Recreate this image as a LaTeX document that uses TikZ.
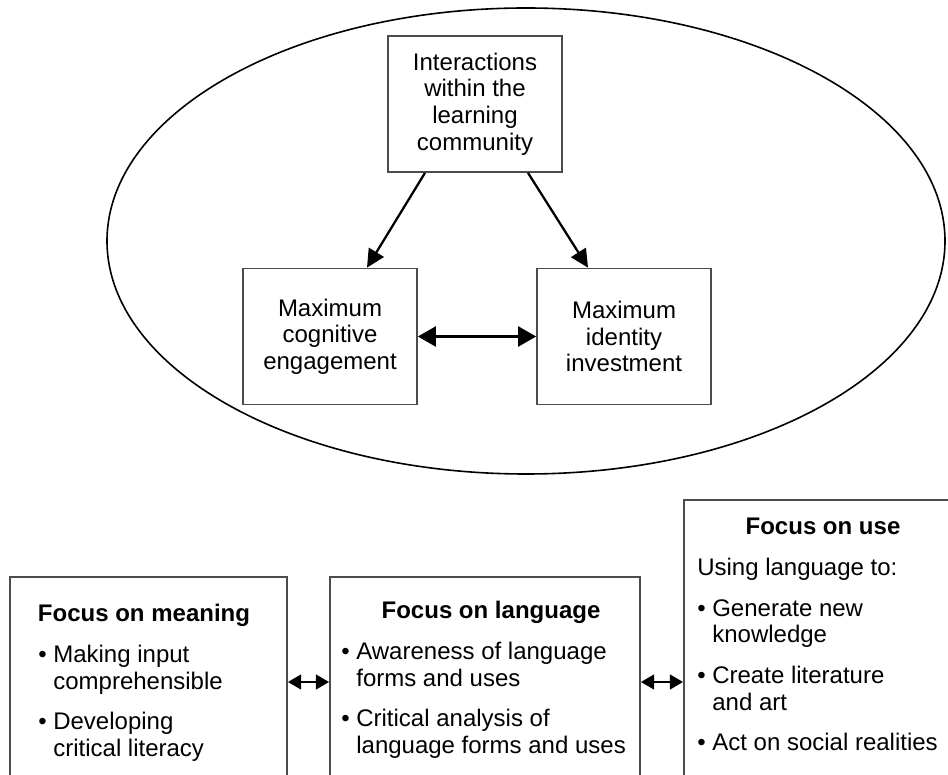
\documentclass[tikz,border=0pt]{standalone}
\usepackage{fontspec}
\setmainfont{Liberation Sans}
\usetikzlibrary{arrows.meta}

\newcommand{\bul}{\textbullet\ }
\newcommand{\bulindent}{\hphantom{\textbullet\ }}

\begin{document}
\begin{tikzpicture}[
    x=0.75pt, y=0.75pt,
    every node/.style={font=\fontsize{18pt}{20pt}\selectfont},
    box/.style={draw=black!70, line width=1.3pt, align=center, inner sep=0pt,
                minimum width=130.5pt, minimum height=102pt},
    panel/.style={draw=black!70, line width=1.3pt, inner sep=0pt,
                  minimum height=157.5pt},
    head/.style={anchor=base, inner sep=0pt,
                 font=\fontsize{18pt}{20pt}\selectfont\bfseries},
    body/.style={anchor=north west, align=left, inner sep=0pt},
    flow/.style={-{Triangle[length=13.5pt,width=13pt]}, line width=1.7pt},
    both/.style={{Triangle[length=13.5pt,width=15pt]}-{Triangle[length=13.5pt,width=15pt]},
                 line width=1.8pt},
    link/.style={{Triangle[length=10pt,width=11pt]}-{Triangle[length=10pt,width=11pt]},
                 line width=2pt}
]

% --- Rahmen: 948 x 774 Einheiten, Ursprung unten links ---
\useasboundingbox (0,0) rectangle (948,774);
\clip (0,0) rectangle (948,774);

% --- Ellipse um das Dreieck ---
\draw[line width=1.2pt] (526,533) ellipse [x radius=314.25pt, y radius=174.75pt];

% --- Dreieck: drei Kaesten ---
\node[box] (inter) at (475,670) {Interactions\\within the\\learning\\community};
\node[box] (cog)   at (330,437.5) {Maximum\\cognitive\\engagement};
\node[box] (ident) at (624,437.5) {Maximum\\identity\\investment};

\draw[flow] ([xshift=-37.5pt]inter.south) -- ([xshift=27.75pt]cog.north);
\draw[flow] ([xshift=39.75pt]inter.south) -- ([xshift=-27pt]ident.north);
\draw[both] (cog) -- (ident);

% --- untere Reihe: drei Felder (unten abgeschnitten) ---
\node[panel, minimum width=207.75pt] (meaning)  at (148.5,92) {};
\node[panel, minimum width=232.5pt]  (language) at (485,92) {};
\node[panel, minimum width=207pt, minimum height=215.25pt] (use) at (822,130.5) {};

\draw[link] (meaning) -- (language);
\draw[link] (language.east) -- (language.east -| use.west);

% --- Text: Focus on meaning ---
\node[head] (meaninghead) at (144,152) {Focus on meaning};
\node[body] (meaningtxt) at (38,129)
  {\bul Making input\\\bulindent comprehensible\\[10.5pt]%
   \bul Developing\\\bulindent critical literacy};

% --- Text: Focus on language ---
\node[head] (languagehead) at (491,155) {Focus on language};
\node[body] (languagetxt) at (341,132)
  {\bul Awareness of language\\\bulindent forms and uses\\[10.5pt]%
   \bul Critical analysis of\\\bulindent language forms and uses};

% --- Text: Focus on use ---
\node[head] (usehead) at (823,239) {Focus on use};
\node[body] (usetxt) at (697,216)
  {Using language to:\\[10.5pt]%
   \bul Generate new\\\bulindent knowledge\\[10.5pt]%
   \bul Create literature\\\bulindent and art\\[10.5pt]%
   \bul Act on social realities};

\end{tikzpicture}
\end{document}
